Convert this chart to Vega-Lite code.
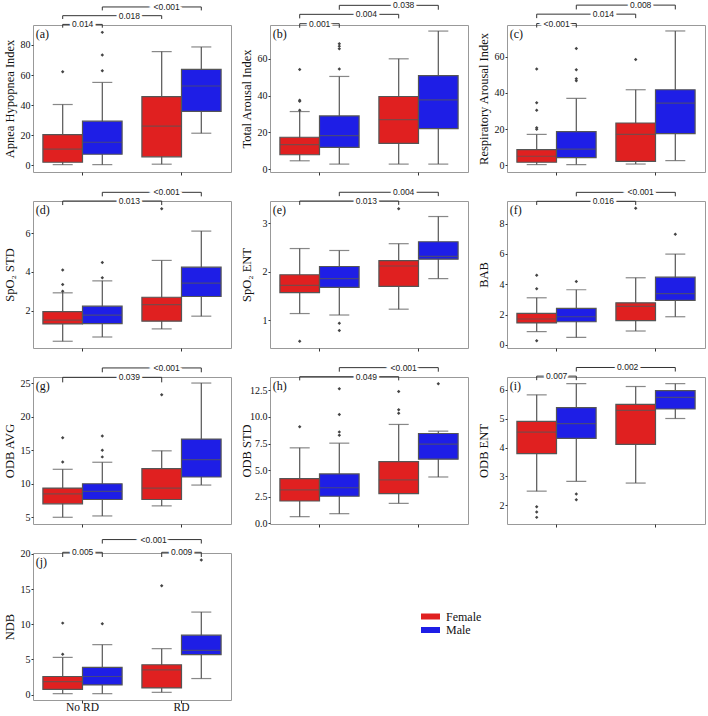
{
"$schema":"https://vega.github.io/schema/vega-lite/v6.json",
"padding":{"left":2,"top":0,"right":0,"bottom":0},
"columns":3,
"spacing":{"row":29,"column":39},
"bounds":"flush",
"datasets":{"d":[
{"p":"a","g":"No RD","s":"Female","lo":0.4,"q1":2,"md":10.7,"q3":20.4,"hi":40.4},
{"p":"a","g":"No RD","s":"Male","lo":0.4,"q1":7.3,"md":15.3,"q3":29.3,"hi":55.1},
{"p":"a","g":"RD","s":"Female","lo":0.7,"q1":5.6,"md":26,"q3":45.6,"hi":75.6},
{"p":"a","g":"RD","s":"Male","lo":21.3,"q1":35.8,"md":52.7,"q3":63.8,"hi":78.7},
{"p":"a","g":"No RD","s":"Female","o":62.2},
{"p":"a","g":"No RD","s":"Male","o":62.9},
{"p":"a","g":"No RD","s":"Male","o":73.3},
{"p":"a","g":"No RD","s":"Male","o":88.4},
{"p":"a","b":"a1","g":"No RD","s":"Female","by":93.7,"bl":91.5},
{"p":"a","b":"a1","g":"No RD","s":"Male","by":93.7,"bl":91.5},
{"p":"a","b":"a2","g":"No RD","s":"Female","by":99.5,"bl":97.3},
{"p":"a","b":"a2","g":"RD","s":"Female","by":99.5,"bl":97.3},
{"p":"a","b":"a3","g":"No RD","s":"Male","by":105.3,"bl":103},
{"p":"a","b":"a3","g":"RD","s":"Male","by":105.3,"bl":103},
{"p":"a","g":"No RD","s":"Female","k":"w","t":"0.014","ty":93.7},
{"p":"a","g":"No RD","s":"Male","k":"f","t":"0.018","ty":99.5},
{"p":"a","g":"RD","s":"Female","k":"m","t":"<0.001","ty":105.3},
{"p":"a","g":"No RD","s":"Female","L":"(a)","ly":93.3},

{"p":"b","g":"No RD","s":"Female","lo":4.5,"q1":7.8,"md":13.3,"q3":17.3,"hi":31.3},
{"p":"b","g":"No RD","s":"Male","lo":2.7,"q1":11.8,"md":18.2,"q3":28.9,"hi":50.4},
{"p":"b","g":"RD","s":"Female","lo":2.7,"q1":14,"md":26.9,"q3":39.5,"hi":60},
{"p":"b","g":"RD","s":"Male","lo":2.7,"q1":22,"md":37.6,"q3":50.9,"hi":75.1},
{"p":"b","g":"No RD","s":"Female","o":32},
{"p":"b","g":"No RD","s":"Female","o":36.9},
{"p":"b","g":"No RD","s":"Female","o":37.5},
{"p":"b","g":"No RD","s":"Female","o":54.2},
{"p":"b","g":"No RD","s":"Male","o":54.4},
{"p":"b","g":"No RD","s":"Male","o":65.5},
{"p":"b","g":"No RD","s":"Male","o":66.9},
{"p":"b","g":"No RD","s":"Male","o":68.2},
{"p":"b","b":"b1","g":"No RD","s":"Female","by":79.1,"bl":76.9},
{"p":"b","b":"b1","g":"No RD","s":"Male","by":79.1,"bl":76.9},
{"p":"b","b":"b2","g":"No RD","s":"Female","by":84.2,"bl":82},
{"p":"b","b":"b2","g":"RD","s":"Female","by":84.2,"bl":82},
{"p":"b","b":"b3","g":"No RD","s":"Male","by":89.1,"bl":86.7},
{"p":"b","b":"b3","g":"RD","s":"Male","by":89.1,"bl":86.7},
{"p":"b","g":"No RD","s":"Female","k":"w","t":"0.001","ty":79.1},
{"p":"b","g":"No RD","s":"Male","k":"f","t":"0.004","ty":84.2},
{"p":"b","g":"RD","s":"Female","k":"m","t":"0.038","ty":89.1},
{"p":"b","g":"No RD","s":"Female","L":"(b)","ly":78.4},

{"p":"c","g":"No RD","s":"Female","lo":0.4,"q1":1.7,"md":5,"q3":8.7,"hi":17.1},
{"p":"c","g":"No RD","s":"Male","lo":0.4,"q1":4.3,"md":8.9,"q3":18.6,"hi":37},
{"p":"c","g":"RD","s":"Female","lo":0.7,"q1":2.2,"md":17.1,"q3":23.4,"hi":41.8},
{"p":"c","g":"RD","s":"Male","lo":2.6,"q1":17.5,"md":34.4,"q3":41.8,"hi":74.3},
{"p":"c","g":"No RD","s":"Female","o":19.9},
{"p":"c","g":"No RD","s":"Female","o":20.8},
{"p":"c","g":"No RD","s":"Female","o":30.5},
{"p":"c","g":"No RD","s":"Female","o":34.6},
{"p":"c","g":"No RD","s":"Female","o":53.3},
{"p":"c","g":"No RD","s":"Male","o":46.8},
{"p":"c","g":"No RD","s":"Male","o":47.9},
{"p":"c","g":"No RD","s":"Male","o":52.9},
{"p":"c","g":"No RD","s":"Male","o":64.6},
{"p":"c","g":"RD","s":"Female","o":58.5},
{"p":"c","b":"c1","g":"No RD","s":"Female","by":78.4,"bl":76.2},
{"p":"c","b":"c1","g":"No RD","s":"Male","by":78.4,"bl":76.2},
{"p":"c","b":"c2","g":"No RD","s":"Female","by":83.6,"bl":81.4},
{"p":"c","b":"c2","g":"RD","s":"Female","by":83.6,"bl":81.4},
{"p":"c","b":"c3","g":"No RD","s":"Male","by":88.6,"bl":86.2},
{"p":"c","b":"c3","g":"RD","s":"Male","by":88.6,"bl":86.2},
{"p":"c","g":"No RD","s":"Female","k":"w","t":"<0.001","ty":78.4},
{"p":"c","g":"No RD","s":"Male","k":"f","t":"0.014","ty":83.6},
{"p":"c","g":"RD","s":"Female","k":"m","t":"0.008","ty":88.6},
{"p":"c","g":"No RD","s":"Female","L":"(c)","ly":77.6},

{"p":"d","g":"No RD","s":"Female","lo":0.41,"q1":1.31,"md":1.5,"q3":1.95,"hi":2.92},
{"p":"d","g":"No RD","s":"Male","lo":0.63,"q1":1.32,"md":1.76,"q3":2.23,"hi":3.54},
{"p":"d","g":"RD","s":"Female","lo":1.05,"q1":1.45,"md":2.31,"q3":2.69,"hi":4.6},
{"p":"d","g":"RD","s":"Male","lo":1.71,"q1":2.73,"md":3.42,"q3":4.25,"hi":6.12},
{"p":"d","g":"No RD","s":"Female","o":3.0},
{"p":"d","g":"No RD","s":"Female","o":3.35},
{"p":"d","g":"No RD","s":"Female","o":4.1},
{"p":"d","g":"No RD","s":"Male","o":3.7},
{"p":"d","g":"No RD","s":"Male","o":4.49},
{"p":"d","g":"RD","s":"Female","o":7.28},
{"p":"d","b":"d1","g":"No RD","s":"Female","by":7.68,"bl":7.47},
{"p":"d","b":"d1","g":"RD","s":"Female","by":7.68,"bl":7.47},
{"p":"d","b":"d2","g":"No RD","s":"Male","by":8.13,"bl":7.92},
{"p":"d","b":"d2","g":"RD","s":"Male","by":8.13,"bl":7.92},
{"p":"d","g":"No RD","s":"Male","k":"f","t":"0.013","ty":7.68},
{"p":"d","g":"RD","s":"Female","k":"m","t":"<0.001","ty":8.13},
{"p":"d","g":"No RD","s":"Female","L":"(d)","ly":7.68},

{"p":"e","g":"No RD","s":"Female","lo":1.14,"q1":1.57,"md":1.72,"q3":1.94,"hi":2.48},
{"p":"e","g":"No RD","s":"Male","lo":1.11,"q1":1.68,"md":1.86,"q3":2.11,"hi":2.44},
{"p":"e","g":"RD","s":"Female","lo":1.23,"q1":1.7,"md":2.12,"q3":2.23,"hi":2.58},
{"p":"e","g":"RD","s":"Male","lo":1.86,"q1":2.26,"md":2.32,"q3":2.62,"hi":3.14},
{"p":"e","g":"No RD","s":"Female","o":0.57},
{"p":"e","g":"No RD","s":"Male","o":0.79},
{"p":"e","g":"No RD","s":"Male","o":0.94},
{"p":"e","g":"RD","s":"Female","o":3.3},
{"p":"e","b":"e1","g":"No RD","s":"Female","by":3.46,"bl":3.38},
{"p":"e","b":"e1","g":"RD","s":"Female","by":3.46,"bl":3.38},
{"p":"e","b":"e2","g":"No RD","s":"Male","by":3.64,"bl":3.56},
{"p":"e","b":"e2","g":"RD","s":"Male","by":3.64,"bl":3.56},
{"p":"e","g":"No RD","s":"Male","k":"f","t":"0.013","ty":3.46},
{"p":"e","g":"RD","s":"Female","k":"m","t":"0.004","ty":3.64},
{"p":"e","g":"No RD","s":"Female","L":"(e)","ly":3.46},

{"p":"f","g":"No RD","s":"Female","lo":0.88,"q1":1.45,"md":1.71,"q3":2.08,"hi":3.11},
{"p":"f","g":"No RD","s":"Male","lo":0.5,"q1":1.53,"md":1.86,"q3":2.41,"hi":3.64},
{"p":"f","g":"RD","s":"Female","lo":0.92,"q1":1.6,"md":2.54,"q3":2.78,"hi":4.43},
{"p":"f","g":"RD","s":"Male","lo":1.86,"q1":2.94,"md":3.38,"q3":4.47,"hi":5.99},
{"p":"f","g":"No RD","s":"Female","o":0.28},
{"p":"f","g":"No RD","s":"Female","o":3.71},
{"p":"f","g":"No RD","s":"Female","o":4.6},
{"p":"f","g":"No RD","s":"Male","o":4.19},
{"p":"f","g":"RD","s":"Female","o":9.01},
{"p":"f","g":"RD","s":"Male","o":7.3},
{"p":"f","b":"f1","g":"No RD","s":"Female","by":9.47,"bl":9.23},
{"p":"f","b":"f1","g":"RD","s":"Female","by":9.47,"bl":9.23},
{"p":"f","b":"f2","g":"No RD","s":"Male","by":10.06,"bl":9.8},
{"p":"f","b":"f2","g":"RD","s":"Male","by":10.06,"bl":9.8},
{"p":"f","g":"No RD","s":"Male","k":"f","t":"0.016","ty":9.47},
{"p":"f","g":"RD","s":"Female","k":"m","t":"<0.001","ty":10.06},
{"p":"f","g":"No RD","s":"Female","L":"(f)","ly":9.49},

{"p":"g","g":"No RD","s":"Female","lo":5,"q1":7,"md":8.5,"q3":9.35,"hi":12.15},
{"p":"g","g":"No RD","s":"Male","lo":5.2,"q1":7.65,"md":8.85,"q3":10,"hi":13.2},
{"p":"g","g":"RD","s":"Female","lo":6.7,"q1":7.65,"md":9.35,"q3":12.25,"hi":14.9},
{"p":"g","g":"RD","s":"Male","lo":9.8,"q1":11,"md":13.6,"q3":16.65,"hi":25},
{"p":"g","g":"No RD","s":"Female","o":13.25},
{"p":"g","g":"No RD","s":"Female","o":16.85},
{"p":"g","g":"No RD","s":"Male","o":14},
{"p":"g","g":"No RD","s":"Male","o":15},
{"p":"g","g":"No RD","s":"Male","o":17.1},
{"p":"g","g":"RD","s":"Female","o":23.25},
{"p":"g","b":"g1","g":"No RD","s":"Female","by":25.85,"bl":25.1},
{"p":"g","b":"g1","g":"RD","s":"Female","by":25.85,"bl":25.1},
{"p":"g","b":"g2","g":"No RD","s":"Male","by":27.25,"bl":26.6},
{"p":"g","b":"g2","g":"RD","s":"Male","by":27.25,"bl":26.6},
{"p":"g","g":"No RD","s":"Male","k":"f","t":"0.039","ty":25.85},
{"p":"g","g":"RD","s":"Female","k":"m","t":"<0.001","ty":27.25},
{"p":"g","g":"No RD","s":"Female","L":"(g)","ly":25.9},

{"p":"h","g":"No RD","s":"Female","lo":0.63,"q1":2.1,"md":3.14,"q3":4.2,"hi":7.1},
{"p":"h","g":"No RD","s":"Male","lo":0.91,"q1":2.55,"md":3.35,"q3":4.65,"hi":7.54},
{"p":"h","g":"RD","s":"Female","lo":1.88,"q1":2.8,"md":4.08,"q3":5.81,"hi":9.3},
{"p":"h","g":"RD","s":"Male","lo":4.36,"q1":6.03,"md":7.44,"q3":8.45,"hi":8.67},
{"p":"h","g":"No RD","s":"Female","o":9.08},
{"p":"h","g":"No RD","s":"Male","o":8.29},
{"p":"h","g":"No RD","s":"Male","o":8.6},
{"p":"h","g":"No RD","s":"Male","o":10.24},
{"p":"h","g":"No RD","s":"Male","o":12.66},
{"p":"h","g":"RD","s":"Female","o":10.36},
{"p":"h","g":"RD","s":"Female","o":10.68},
{"p":"h","g":"RD","s":"Female","o":12.4},
{"p":"h","g":"RD","s":"Male","o":13.13},
{"p":"h","b":"h1","g":"No RD","s":"Female","by":13.79,"bl":13.44},
{"p":"h","b":"h1","g":"RD","s":"Female","by":13.79,"bl":13.44},
{"p":"h","b":"h2","g":"No RD","s":"Male","by":14.64,"bl":14.26},
{"p":"h","b":"h2","g":"RD","s":"Male","by":14.64,"bl":14.26},
{"p":"h","g":"No RD","s":"Male","k":"f","t":"0.049","ty":13.79},
{"p":"h","g":"RD","s":"Female","k":"m","t":"<0.001","ty":14.64},
{"p":"h","g":"No RD","s":"Female","L":"(h)","ly":13.76},

{"p":"i","g":"No RD","s":"Female","lo":2.49,"q1":3.79,"md":4.54,"q3":4.91,"hi":5.83},
{"p":"i","g":"No RD","s":"Male","lo":2.83,"q1":4.32,"md":4.83,"q3":5.39,"hi":6.22},
{"p":"i","g":"RD","s":"Female","lo":2.77,"q1":4.11,"md":5.29,"q3":5.5,"hi":6.12},
{"p":"i","g":"RD","s":"Male","lo":5.01,"q1":5.34,"md":5.74,"q3":5.98,"hi":6.22},
{"p":"i","g":"No RD","s":"Female","o":1.58},
{"p":"i","g":"No RD","s":"Female","o":1.77},
{"p":"i","g":"No RD","s":"Female","o":1.95},
{"p":"i","g":"No RD","s":"Male","o":2.19},
{"p":"i","g":"No RD","s":"Male","o":2.39},
{"p":"i","b":"i1","g":"No RD","s":"Female","by":6.48,"bl":6.34},
{"p":"i","b":"i1","g":"No RD","s":"Male","by":6.48,"bl":6.34},
{"p":"i","b":"i2","g":"No RD","s":"Male","by":6.78,"bl":6.64},
{"p":"i","b":"i2","g":"RD","s":"Male","by":6.78,"bl":6.64},
{"p":"i","g":"No RD","s":"Female","k":"w","t":"0.007","ty":6.48},
{"p":"i","g":"RD","s":"Female","k":"m2","t":"0.002","ty":6.78},
{"p":"i","g":"No RD","s":"Female","L":"(i)","ly":6.45},

{"p":"j","g":"No RD","s":"Female","lo":0.14,"q1":0.76,"md":1.86,"q3":2.58,"hi":5.3},
{"p":"j","g":"No RD","s":"Male","lo":0.14,"q1":1.38,"md":2.58,"q3":3.87,"hi":7.11},
{"p":"j","g":"RD","s":"Female","lo":0.33,"q1":0.95,"md":3.53,"q3":4.25,"hi":6.54},
{"p":"j","g":"RD","s":"Male","lo":2.29,"q1":5.68,"md":6.3,"q3":8.45,"hi":11.74},
{"p":"j","g":"No RD","s":"Female","o":5.73},
{"p":"j","g":"No RD","s":"Female","o":10.17},
{"p":"j","g":"No RD","s":"Male","o":10.07},
{"p":"j","g":"RD","s":"Female","o":15.47},
{"p":"j","g":"RD","s":"Male","o":19.14},
{"p":"j","b":"j1","g":"No RD","s":"Female","by":20.24,"bl":19.57},
{"p":"j","b":"j1","g":"No RD","s":"Male","by":20.24,"bl":19.57},
{"p":"j","b":"j2","g":"RD","s":"Female","by":20.24,"bl":19.57},
{"p":"j","b":"j2","g":"RD","s":"Male","by":20.24,"bl":19.57},
{"p":"j","b":"j3","g":"No RD","s":"Male","by":22.05,"bl":21.48},
{"p":"j","b":"j3","g":"RD","s":"Male","by":22.05,"bl":21.48},
{"p":"j","g":"No RD","s":"Female","k":"w","t":"0.005","ty":20.24},
{"p":"j","g":"RD","s":"Female","k":"w","t":"0.009","ty":20.24},
{"p":"j","g":"RD","s":"Female","k":"m2","t":"<0.001","ty":22.05},
{"p":"j","g":"No RD","s":"Female","L":"(j)","ly":20.14}
]},
"concat":[
{"width":198,"height":147,"data":{"name":"d"},"transform":[{"filter":"datum.p=='a'"}],
"encoding":{"x":{"field":"g","type":"nominal","title":null,"scale":{"domain":["No RD","RD"],"paddingInner":0,"paddingOuter":0}},"xOffset":{"field":"s","type":"nominal","scale":{"domain":["Female","Male"],"paddingInner":0,"paddingOuter":0.25}}},
"layer":[
{"transform":[{"filter":"datum.q1!=null"}],"mark":{"type":"rule","color":"#555","strokeWidth":1.2},"encoding":{"y":{"field":"lo","type":"quantitative","scale":{"domain":[-4.5,93.3],"nice":false},"axis":{"title":"Apnea Hypopnea Index","tickCount":5,"format":"d","labelOverlap":false}},"y2":{"field":"hi"}}},
{"transform":[{"filter":"datum.q1!=null"}],"mark":{"type":"bar","stroke":"#555","strokeWidth":1.2},"encoding":{"y":{"field":"q1","type":"quantitative"},"y2":{"field":"q3"},"color":{"field":"s","type":"nominal","title":null}}},
{"transform":[{"filter":"datum.q1!=null"}],"mark":{"type":"tick","color":"#555","thickness":1.2,"size":39.6},"encoding":{"y":{"field":"md","type":"quantitative"}}},
{"transform":[{"filter":"datum.q1!=null"},{"fold":["lo","hi"],"as":["kk","c"]}],"mark":{"type":"tick","color":"#555","thickness":1.2,"size":20},"encoding":{"y":{"field":"c","type":"quantitative"}}},
{"transform":[{"filter":"datum.o!=null"}],"mark":{"type":"point","shape":"diamond","filled":true,"size":12,"color":"#444","opacity":1},"encoding":{"y":{"field":"o","type":"quantitative"}}},
{"transform":[{"filter":"datum.b!=null"}],"mark":{"type":"line","color":"#333","strokeWidth":1},"encoding":{"y":{"field":"by","type":"quantitative"},"detail":{"field":"b","type":"nominal"}}},
{"transform":[{"filter":"datum.b!=null"}],"mark":{"type":"rule","color":"#333","strokeWidth":1},"encoding":{"y":{"field":"by","type":"quantitative"},"y2":{"field":"bl"}}},
{"transform":[{"filter":"datum.t!=null"}],"mark":{"type":"text","font":"Liberation Sans","fontSize":8.5,"align":"center","baseline":"middle","color":"white","stroke":"white","strokeWidth":5,"dx":{"expr":"datum.k=='w'?20:datum.k=='f'?27:datum.k=='m'?5:-8"}},"encoding":{"y":{"field":"ty","type":"quantitative"},"text":{"field":"t"}}},
{"transform":[{"filter":"datum.t!=null"}],"mark":{"type":"text","font":"Liberation Sans","fontSize":8.5,"align":"center","baseline":"middle","color":"#222","dx":{"expr":"datum.k=='w'?20:datum.k=='f'?27:datum.k=='m'?5:-8"}},"encoding":{"y":{"field":"ty","type":"quantitative"},"text":{"field":"t"}}},
{"transform":[{"filter":"datum.L!=null"}],"mark":{"type":"text","fontSize":12,"align":"left","baseline":"top","dx":-27,"dy":4,"color":"#111"},"encoding":{"y":{"field":"ly","type":"quantitative"},"text":{"field":"L"}}}
]},
{"width":198,"height":147,"data":{"name":"d"},"transform":[{"filter":"datum.p=='b'"}],
"encoding":{"x":{"field":"g","type":"nominal","title":null,"scale":{"domain":["No RD","RD"],"paddingInner":0,"paddingOuter":0}},"xOffset":{"field":"s","type":"nominal","scale":{"domain":["Female","Male"],"paddingInner":0,"paddingOuter":0.25}}},
"layer":[
{"transform":[{"filter":"datum.q1!=null"}],"mark":{"type":"rule","color":"#555","strokeWidth":1.2},"encoding":{"y":{"field":"lo","type":"quantitative","scale":{"domain":[-1.6,78.4],"nice":false},"axis":{"title":"Total Arousal Index","values":[0,20,40,60],"tickCount":20,"format":"d","labelOverlap":false}},"y2":{"field":"hi"}}},
{"transform":[{"filter":"datum.q1!=null"}],"mark":{"type":"bar","stroke":"#555","strokeWidth":1.2},"encoding":{"y":{"field":"q1","type":"quantitative"},"y2":{"field":"q3"},"color":{"field":"s","type":"nominal","title":null}}},
{"transform":[{"filter":"datum.q1!=null"}],"mark":{"type":"tick","color":"#555","thickness":1.2,"size":39.6},"encoding":{"y":{"field":"md","type":"quantitative"}}},
{"transform":[{"filter":"datum.q1!=null"},{"fold":["lo","hi"],"as":["kk","c"]}],"mark":{"type":"tick","color":"#555","thickness":1.2,"size":20},"encoding":{"y":{"field":"c","type":"quantitative"}}},
{"transform":[{"filter":"datum.o!=null"}],"mark":{"type":"point","shape":"diamond","filled":true,"size":12,"color":"#444","opacity":1},"encoding":{"y":{"field":"o","type":"quantitative"}}},
{"transform":[{"filter":"datum.b!=null"}],"mark":{"type":"line","color":"#333","strokeWidth":1},"encoding":{"y":{"field":"by","type":"quantitative"},"detail":{"field":"b","type":"nominal"}}},
{"transform":[{"filter":"datum.b!=null"}],"mark":{"type":"rule","color":"#333","strokeWidth":1},"encoding":{"y":{"field":"by","type":"quantitative"},"y2":{"field":"bl"}}},
{"transform":[{"filter":"datum.t!=null"}],"mark":{"type":"text","font":"Liberation Sans","fontSize":8.5,"align":"center","baseline":"middle","color":"white","stroke":"white","strokeWidth":5,"dx":{"expr":"datum.k=='w'?20:datum.k=='f'?27:datum.k=='m'?5:-8"}},"encoding":{"y":{"field":"ty","type":"quantitative"},"text":{"field":"t"}}},
{"transform":[{"filter":"datum.t!=null"}],"mark":{"type":"text","font":"Liberation Sans","fontSize":8.5,"align":"center","baseline":"middle","color":"#222","dx":{"expr":"datum.k=='w'?20:datum.k=='f'?27:datum.k=='m'?5:-8"}},"encoding":{"y":{"field":"ty","type":"quantitative"},"text":{"field":"t"}}},
{"transform":[{"filter":"datum.L!=null"}],"mark":{"type":"text","fontSize":12,"align":"left","baseline":"top","dx":-27,"dy":4,"color":"#111"},"encoding":{"y":{"field":"ly","type":"quantitative"},"text":{"field":"L"}}}
]},
{"width":198,"height":147,"data":{"name":"d"},"transform":[{"filter":"datum.p=='c'"}],
"encoding":{"x":{"field":"g","type":"nominal","title":null,"scale":{"domain":["No RD","RD"],"paddingInner":0,"paddingOuter":0}},"xOffset":{"field":"s","type":"nominal","scale":{"domain":["Female","Male"],"paddingInner":0,"paddingOuter":0.25}}},
"layer":[
{"transform":[{"filter":"datum.q1!=null"}],"mark":{"type":"rule","color":"#555","strokeWidth":1.2},"encoding":{"y":{"field":"lo","type":"quantitative","scale":{"domain":[-3.7,77.6],"nice":false},"axis":{"title":"Respiratory Arousal Index","values":[0,20,40,60],"tickCount":20,"format":"d","labelOverlap":false}},"y2":{"field":"hi"}}},
{"transform":[{"filter":"datum.q1!=null"}],"mark":{"type":"bar","stroke":"#555","strokeWidth":1.2},"encoding":{"y":{"field":"q1","type":"quantitative"},"y2":{"field":"q3"},"color":{"field":"s","type":"nominal","title":null}}},
{"transform":[{"filter":"datum.q1!=null"}],"mark":{"type":"tick","color":"#555","thickness":1.2,"size":39.6},"encoding":{"y":{"field":"md","type":"quantitative"}}},
{"transform":[{"filter":"datum.q1!=null"},{"fold":["lo","hi"],"as":["kk","c"]}],"mark":{"type":"tick","color":"#555","thickness":1.2,"size":20},"encoding":{"y":{"field":"c","type":"quantitative"}}},
{"transform":[{"filter":"datum.o!=null"}],"mark":{"type":"point","shape":"diamond","filled":true,"size":12,"color":"#444","opacity":1},"encoding":{"y":{"field":"o","type":"quantitative"}}},
{"transform":[{"filter":"datum.b!=null"}],"mark":{"type":"line","color":"#333","strokeWidth":1},"encoding":{"y":{"field":"by","type":"quantitative"},"detail":{"field":"b","type":"nominal"}}},
{"transform":[{"filter":"datum.b!=null"}],"mark":{"type":"rule","color":"#333","strokeWidth":1},"encoding":{"y":{"field":"by","type":"quantitative"},"y2":{"field":"bl"}}},
{"transform":[{"filter":"datum.t!=null"}],"mark":{"type":"text","font":"Liberation Sans","fontSize":8.5,"align":"center","baseline":"middle","color":"white","stroke":"white","strokeWidth":5,"dx":{"expr":"datum.k=='w'?20:datum.k=='f'?27:datum.k=='m'?5:-8"}},"encoding":{"y":{"field":"ty","type":"quantitative"},"text":{"field":"t"}}},
{"transform":[{"filter":"datum.t!=null"}],"mark":{"type":"text","font":"Liberation Sans","fontSize":8.5,"align":"center","baseline":"middle","color":"#222","dx":{"expr":"datum.k=='w'?20:datum.k=='f'?27:datum.k=='m'?5:-8"}},"encoding":{"y":{"field":"ty","type":"quantitative"},"text":{"field":"t"}}},
{"transform":[{"filter":"datum.L!=null"}],"mark":{"type":"text","fontSize":12,"align":"left","baseline":"top","dx":-27,"dy":4,"color":"#111"},"encoding":{"y":{"field":"ly","type":"quantitative"},"text":{"field":"L"}}}
]},
{"width":198,"height":147,"data":{"name":"d"},"transform":[{"filter":"datum.p=='d'"}],
"encoding":{"x":{"field":"g","type":"nominal","title":null,"scale":{"domain":["No RD","RD"],"paddingInner":0,"paddingOuter":0}},"xOffset":{"field":"s","type":"nominal","scale":{"domain":["Female","Male"],"paddingInner":0,"paddingOuter":0.25}}},
"layer":[
{"transform":[{"filter":"datum.q1!=null"}],"mark":{"type":"rule","color":"#555","strokeWidth":1.2},"encoding":{"y":{"field":"lo","type":"quantitative","scale":{"domain":[0.06,7.68],"nice":false},"axis":{"title":"SpO₂ STD","values":[2,4,6],"tickCount":20,"format":"d","labelOverlap":false}},"y2":{"field":"hi"}}},
{"transform":[{"filter":"datum.q1!=null"}],"mark":{"type":"bar","stroke":"#555","strokeWidth":1.2},"encoding":{"y":{"field":"q1","type":"quantitative"},"y2":{"field":"q3"},"color":{"field":"s","type":"nominal","title":null}}},
{"transform":[{"filter":"datum.q1!=null"}],"mark":{"type":"tick","color":"#555","thickness":1.2,"size":39.6},"encoding":{"y":{"field":"md","type":"quantitative"}}},
{"transform":[{"filter":"datum.q1!=null"},{"fold":["lo","hi"],"as":["kk","c"]}],"mark":{"type":"tick","color":"#555","thickness":1.2,"size":20},"encoding":{"y":{"field":"c","type":"quantitative"}}},
{"transform":[{"filter":"datum.o!=null"}],"mark":{"type":"point","shape":"diamond","filled":true,"size":12,"color":"#444","opacity":1},"encoding":{"y":{"field":"o","type":"quantitative"}}},
{"transform":[{"filter":"datum.b!=null"}],"mark":{"type":"line","color":"#333","strokeWidth":1},"encoding":{"y":{"field":"by","type":"quantitative"},"detail":{"field":"b","type":"nominal"}}},
{"transform":[{"filter":"datum.b!=null"}],"mark":{"type":"rule","color":"#333","strokeWidth":1},"encoding":{"y":{"field":"by","type":"quantitative"},"y2":{"field":"bl"}}},
{"transform":[{"filter":"datum.t!=null"}],"mark":{"type":"text","font":"Liberation Sans","fontSize":8.5,"align":"center","baseline":"middle","color":"white","stroke":"white","strokeWidth":5,"dx":{"expr":"datum.k=='w'?20:datum.k=='f'?27:datum.k=='m'?5:-8"}},"encoding":{"y":{"field":"ty","type":"quantitative"},"text":{"field":"t"}}},
{"transform":[{"filter":"datum.t!=null"}],"mark":{"type":"text","font":"Liberation Sans","fontSize":8.5,"align":"center","baseline":"middle","color":"#222","dx":{"expr":"datum.k=='w'?20:datum.k=='f'?27:datum.k=='m'?5:-8"}},"encoding":{"y":{"field":"ty","type":"quantitative"},"text":{"field":"t"}}},
{"transform":[{"filter":"datum.L!=null"}],"mark":{"type":"text","fontSize":12,"align":"left","baseline":"top","dx":-27,"dy":4,"color":"#111"},"encoding":{"y":{"field":"ly","type":"quantitative"},"text":{"field":"L"}}}
]},
{"width":198,"height":147,"data":{"name":"d"},"transform":[{"filter":"datum.p=='e'"}],
"encoding":{"x":{"field":"g","type":"nominal","title":null,"scale":{"domain":["No RD","RD"],"paddingInner":0,"paddingOuter":0}},"xOffset":{"field":"s","type":"nominal","scale":{"domain":["Female","Male"],"paddingInner":0,"paddingOuter":0.25}}},
"layer":[
{"transform":[{"filter":"datum.q1!=null"}],"mark":{"type":"rule","color":"#555","strokeWidth":1.2},"encoding":{"y":{"field":"lo","type":"quantitative","scale":{"domain":[0.43,3.46],"nice":false},"axis":{"title":"SpO₂ ENT","values":[1,2,3],"tickCount":20,"format":"d","labelOverlap":false}},"y2":{"field":"hi"}}},
{"transform":[{"filter":"datum.q1!=null"}],"mark":{"type":"bar","stroke":"#555","strokeWidth":1.2},"encoding":{"y":{"field":"q1","type":"quantitative"},"y2":{"field":"q3"},"color":{"field":"s","type":"nominal","title":null}}},
{"transform":[{"filter":"datum.q1!=null"}],"mark":{"type":"tick","color":"#555","thickness":1.2,"size":39.6},"encoding":{"y":{"field":"md","type":"quantitative"}}},
{"transform":[{"filter":"datum.q1!=null"},{"fold":["lo","hi"],"as":["kk","c"]}],"mark":{"type":"tick","color":"#555","thickness":1.2,"size":20},"encoding":{"y":{"field":"c","type":"quantitative"}}},
{"transform":[{"filter":"datum.o!=null"}],"mark":{"type":"point","shape":"diamond","filled":true,"size":12,"color":"#444","opacity":1},"encoding":{"y":{"field":"o","type":"quantitative"}}},
{"transform":[{"filter":"datum.b!=null"}],"mark":{"type":"line","color":"#333","strokeWidth":1},"encoding":{"y":{"field":"by","type":"quantitative"},"detail":{"field":"b","type":"nominal"}}},
{"transform":[{"filter":"datum.b!=null"}],"mark":{"type":"rule","color":"#333","strokeWidth":1},"encoding":{"y":{"field":"by","type":"quantitative"},"y2":{"field":"bl"}}},
{"transform":[{"filter":"datum.t!=null"}],"mark":{"type":"text","font":"Liberation Sans","fontSize":8.5,"align":"center","baseline":"middle","color":"white","stroke":"white","strokeWidth":5,"dx":{"expr":"datum.k=='w'?20:datum.k=='f'?27:datum.k=='m'?5:-8"}},"encoding":{"y":{"field":"ty","type":"quantitative"},"text":{"field":"t"}}},
{"transform":[{"filter":"datum.t!=null"}],"mark":{"type":"text","font":"Liberation Sans","fontSize":8.5,"align":"center","baseline":"middle","color":"#222","dx":{"expr":"datum.k=='w'?20:datum.k=='f'?27:datum.k=='m'?5:-8"}},"encoding":{"y":{"field":"ty","type":"quantitative"},"text":{"field":"t"}}},
{"transform":[{"filter":"datum.L!=null"}],"mark":{"type":"text","fontSize":12,"align":"left","baseline":"top","dx":-27,"dy":4,"color":"#111"},"encoding":{"y":{"field":"ly","type":"quantitative"},"text":{"field":"L"}}}
]},
{"width":198,"height":147,"data":{"name":"d"},"transform":[{"filter":"datum.p=='f'"}],
"encoding":{"x":{"field":"g","type":"nominal","title":null,"scale":{"domain":["No RD","RD"],"paddingInner":0,"paddingOuter":0}},"xOffset":{"field":"s","type":"nominal","scale":{"domain":["Female","Male"],"paddingInner":0,"paddingOuter":0.25}}},
"layer":[
{"transform":[{"filter":"datum.q1!=null"}],"mark":{"type":"rule","color":"#555","strokeWidth":1.2},"encoding":{"y":{"field":"lo","type":"quantitative","scale":{"domain":[-0.2,9.49],"nice":false},"axis":{"title":"BAB","values":[0,2,4,6,8],"tickCount":20,"format":"d","labelOverlap":false}},"y2":{"field":"hi"}}},
{"transform":[{"filter":"datum.q1!=null"}],"mark":{"type":"bar","stroke":"#555","strokeWidth":1.2},"encoding":{"y":{"field":"q1","type":"quantitative"},"y2":{"field":"q3"},"color":{"field":"s","type":"nominal","title":null}}},
{"transform":[{"filter":"datum.q1!=null"}],"mark":{"type":"tick","color":"#555","thickness":1.2,"size":39.6},"encoding":{"y":{"field":"md","type":"quantitative"}}},
{"transform":[{"filter":"datum.q1!=null"},{"fold":["lo","hi"],"as":["kk","c"]}],"mark":{"type":"tick","color":"#555","thickness":1.2,"size":20},"encoding":{"y":{"field":"c","type":"quantitative"}}},
{"transform":[{"filter":"datum.o!=null"}],"mark":{"type":"point","shape":"diamond","filled":true,"size":12,"color":"#444","opacity":1},"encoding":{"y":{"field":"o","type":"quantitative"}}},
{"transform":[{"filter":"datum.b!=null"}],"mark":{"type":"line","color":"#333","strokeWidth":1},"encoding":{"y":{"field":"by","type":"quantitative"},"detail":{"field":"b","type":"nominal"}}},
{"transform":[{"filter":"datum.b!=null"}],"mark":{"type":"rule","color":"#333","strokeWidth":1},"encoding":{"y":{"field":"by","type":"quantitative"},"y2":{"field":"bl"}}},
{"transform":[{"filter":"datum.t!=null"}],"mark":{"type":"text","font":"Liberation Sans","fontSize":8.5,"align":"center","baseline":"middle","color":"white","stroke":"white","strokeWidth":5,"dx":{"expr":"datum.k=='w'?20:datum.k=='f'?27:datum.k=='m'?5:-8"}},"encoding":{"y":{"field":"ty","type":"quantitative"},"text":{"field":"t"}}},
{"transform":[{"filter":"datum.t!=null"}],"mark":{"type":"text","font":"Liberation Sans","fontSize":8.5,"align":"center","baseline":"middle","color":"#222","dx":{"expr":"datum.k=='w'?20:datum.k=='f'?27:datum.k=='m'?5:-8"}},"encoding":{"y":{"field":"ty","type":"quantitative"},"text":{"field":"t"}}},
{"transform":[{"filter":"datum.L!=null"}],"mark":{"type":"text","fontSize":12,"align":"left","baseline":"top","dx":-27,"dy":4,"color":"#111"},"encoding":{"y":{"field":"ly","type":"quantitative"},"text":{"field":"L"}}}
]},
{"width":198,"height":147,"data":{"name":"d"},"transform":[{"filter":"datum.p=='g'"}],
"encoding":{"x":{"field":"g","type":"nominal","title":null,"scale":{"domain":["No RD","RD"],"paddingInner":0,"paddingOuter":0}},"xOffset":{"field":"s","type":"nominal","scale":{"domain":["Female","Male"],"paddingInner":0,"paddingOuter":0.25}}},
"layer":[
{"transform":[{"filter":"datum.q1!=null"}],"mark":{"type":"rule","color":"#555","strokeWidth":1.2},"encoding":{"y":{"field":"lo","type":"quantitative","scale":{"domain":[4.0,25.9],"nice":false},"axis":{"title":"ODB AVG","values":[5,10,15,20,25],"tickCount":20,"format":"d","labelOverlap":false}},"y2":{"field":"hi"}}},
{"transform":[{"filter":"datum.q1!=null"}],"mark":{"type":"bar","stroke":"#555","strokeWidth":1.2},"encoding":{"y":{"field":"q1","type":"quantitative"},"y2":{"field":"q3"},"color":{"field":"s","type":"nominal","title":null}}},
{"transform":[{"filter":"datum.q1!=null"}],"mark":{"type":"tick","color":"#555","thickness":1.2,"size":39.6},"encoding":{"y":{"field":"md","type":"quantitative"}}},
{"transform":[{"filter":"datum.q1!=null"},{"fold":["lo","hi"],"as":["kk","c"]}],"mark":{"type":"tick","color":"#555","thickness":1.2,"size":20},"encoding":{"y":{"field":"c","type":"quantitative"}}},
{"transform":[{"filter":"datum.o!=null"}],"mark":{"type":"point","shape":"diamond","filled":true,"size":12,"color":"#444","opacity":1},"encoding":{"y":{"field":"o","type":"quantitative"}}},
{"transform":[{"filter":"datum.b!=null"}],"mark":{"type":"line","color":"#333","strokeWidth":1},"encoding":{"y":{"field":"by","type":"quantitative"},"detail":{"field":"b","type":"nominal"}}},
{"transform":[{"filter":"datum.b!=null"}],"mark":{"type":"rule","color":"#333","strokeWidth":1},"encoding":{"y":{"field":"by","type":"quantitative"},"y2":{"field":"bl"}}},
{"transform":[{"filter":"datum.t!=null"}],"mark":{"type":"text","font":"Liberation Sans","fontSize":8.5,"align":"center","baseline":"middle","color":"white","stroke":"white","strokeWidth":5,"dx":{"expr":"datum.k=='w'?20:datum.k=='f'?27:datum.k=='m'?5:-8"}},"encoding":{"y":{"field":"ty","type":"quantitative"},"text":{"field":"t"}}},
{"transform":[{"filter":"datum.t!=null"}],"mark":{"type":"text","font":"Liberation Sans","fontSize":8.5,"align":"center","baseline":"middle","color":"#222","dx":{"expr":"datum.k=='w'?20:datum.k=='f'?27:datum.k=='m'?5:-8"}},"encoding":{"y":{"field":"ty","type":"quantitative"},"text":{"field":"t"}}},
{"transform":[{"filter":"datum.L!=null"}],"mark":{"type":"text","fontSize":12,"align":"left","baseline":"top","dx":-27,"dy":4,"color":"#111"},"encoding":{"y":{"field":"ly","type":"quantitative"},"text":{"field":"L"}}}
]},
{"width":198,"height":147,"data":{"name":"d"},"transform":[{"filter":"datum.p=='h'"}],
"encoding":{"x":{"field":"g","type":"nominal","title":null,"scale":{"domain":["No RD","RD"],"paddingInner":0,"paddingOuter":0}},"xOffset":{"field":"s","type":"nominal","scale":{"domain":["Female","Male"],"paddingInner":0,"paddingOuter":0.25}}},
"layer":[
{"transform":[{"filter":"datum.q1!=null"}],"mark":{"type":"rule","color":"#555","strokeWidth":1.2},"encoding":{"y":{"field":"lo","type":"quantitative","scale":{"domain":[-0.06,13.76],"nice":false},"axis":{"title":"ODB STD","values":[0,2.5,5,7.5,10,12.5],"format":".1f","tickCount":20,"labelOverlap":false}},"y2":{"field":"hi"}}},
{"transform":[{"filter":"datum.q1!=null"}],"mark":{"type":"bar","stroke":"#555","strokeWidth":1.2},"encoding":{"y":{"field":"q1","type":"quantitative"},"y2":{"field":"q3"},"color":{"field":"s","type":"nominal","title":null}}},
{"transform":[{"filter":"datum.q1!=null"}],"mark":{"type":"tick","color":"#555","thickness":1.2,"size":39.6},"encoding":{"y":{"field":"md","type":"quantitative"}}},
{"transform":[{"filter":"datum.q1!=null"},{"fold":["lo","hi"],"as":["kk","c"]}],"mark":{"type":"tick","color":"#555","thickness":1.2,"size":20},"encoding":{"y":{"field":"c","type":"quantitative"}}},
{"transform":[{"filter":"datum.o!=null"}],"mark":{"type":"point","shape":"diamond","filled":true,"size":12,"color":"#444","opacity":1},"encoding":{"y":{"field":"o","type":"quantitative"}}},
{"transform":[{"filter":"datum.b!=null"}],"mark":{"type":"line","color":"#333","strokeWidth":1},"encoding":{"y":{"field":"by","type":"quantitative"},"detail":{"field":"b","type":"nominal"}}},
{"transform":[{"filter":"datum.b!=null"}],"mark":{"type":"rule","color":"#333","strokeWidth":1},"encoding":{"y":{"field":"by","type":"quantitative"},"y2":{"field":"bl"}}},
{"transform":[{"filter":"datum.t!=null"}],"mark":{"type":"text","font":"Liberation Sans","fontSize":8.5,"align":"center","baseline":"middle","color":"white","stroke":"white","strokeWidth":5,"dx":{"expr":"datum.k=='w'?20:datum.k=='f'?27:datum.k=='m'?5:-8"}},"encoding":{"y":{"field":"ty","type":"quantitative"},"text":{"field":"t"}}},
{"transform":[{"filter":"datum.t!=null"}],"mark":{"type":"text","font":"Liberation Sans","fontSize":8.5,"align":"center","baseline":"middle","color":"#222","dx":{"expr":"datum.k=='w'?20:datum.k=='f'?27:datum.k=='m'?5:-8"}},"encoding":{"y":{"field":"ty","type":"quantitative"},"text":{"field":"t"}}},
{"transform":[{"filter":"datum.L!=null"}],"mark":{"type":"text","fontSize":12,"align":"left","baseline":"top","dx":-27,"dy":4,"color":"#111"},"encoding":{"y":{"field":"ly","type":"quantitative"},"text":{"field":"L"}}}
]},
{"width":198,"height":147,"data":{"name":"d"},"transform":[{"filter":"datum.p=='i'"}],
"encoding":{"x":{"field":"g","type":"nominal","title":null,"scale":{"domain":["No RD","RD"],"paddingInner":0,"paddingOuter":0}},"xOffset":{"field":"s","type":"nominal","scale":{"domain":["Female","Male"],"paddingInner":0,"paddingOuter":0.25}}},
"layer":[
{"transform":[{"filter":"datum.q1!=null"}],"mark":{"type":"rule","color":"#555","strokeWidth":1.2},"encoding":{"y":{"field":"lo","type":"quantitative","scale":{"domain":[1.35,6.45],"nice":false},"axis":{"title":"ODB ENT","values":[2,3,4,5,6],"tickCount":20,"format":"d","labelOverlap":false}},"y2":{"field":"hi"}}},
{"transform":[{"filter":"datum.q1!=null"}],"mark":{"type":"bar","stroke":"#555","strokeWidth":1.2},"encoding":{"y":{"field":"q1","type":"quantitative"},"y2":{"field":"q3"},"color":{"field":"s","type":"nominal","title":null}}},
{"transform":[{"filter":"datum.q1!=null"}],"mark":{"type":"tick","color":"#555","thickness":1.2,"size":39.6},"encoding":{"y":{"field":"md","type":"quantitative"}}},
{"transform":[{"filter":"datum.q1!=null"},{"fold":["lo","hi"],"as":["kk","c"]}],"mark":{"type":"tick","color":"#555","thickness":1.2,"size":20},"encoding":{"y":{"field":"c","type":"quantitative"}}},
{"transform":[{"filter":"datum.o!=null"}],"mark":{"type":"point","shape":"diamond","filled":true,"size":12,"color":"#444","opacity":1},"encoding":{"y":{"field":"o","type":"quantitative"}}},
{"transform":[{"filter":"datum.b!=null"}],"mark":{"type":"line","color":"#333","strokeWidth":1},"encoding":{"y":{"field":"by","type":"quantitative"},"detail":{"field":"b","type":"nominal"}}},
{"transform":[{"filter":"datum.b!=null"}],"mark":{"type":"rule","color":"#333","strokeWidth":1},"encoding":{"y":{"field":"by","type":"quantitative"},"y2":{"field":"bl"}}},
{"transform":[{"filter":"datum.t!=null"}],"mark":{"type":"text","font":"Liberation Sans","fontSize":8.5,"align":"center","baseline":"middle","color":"white","stroke":"white","strokeWidth":5,"dx":{"expr":"datum.k=='w'?20:datum.k=='f'?27:datum.k=='m'?5:-8"}},"encoding":{"y":{"field":"ty","type":"quantitative"},"text":{"field":"t"}}},
{"transform":[{"filter":"datum.t!=null"}],"mark":{"type":"text","font":"Liberation Sans","fontSize":8.5,"align":"center","baseline":"middle","color":"#222","dx":{"expr":"datum.k=='w'?20:datum.k=='f'?27:datum.k=='m'?5:-8"}},"encoding":{"y":{"field":"ty","type":"quantitative"},"text":{"field":"t"}}},
{"transform":[{"filter":"datum.L!=null"}],"mark":{"type":"text","fontSize":12,"align":"left","baseline":"top","dx":-27,"dy":4,"color":"#111"},"encoding":{"y":{"field":"ly","type":"quantitative"},"text":{"field":"L"}}}
]},
{"width":198,"height":147,"data":{"name":"d"},"transform":[{"filter":"datum.p=='j'"}],
"encoding":{"x":{"field":"g","type":"nominal","title":null,"axis":{"labels":true},"scale":{"domain":["No RD","RD"],"paddingInner":0,"paddingOuter":0}},"xOffset":{"field":"s","type":"nominal","scale":{"domain":["Female","Male"],"paddingInner":0,"paddingOuter":0.25}}},
"layer":[
{"transform":[{"filter":"datum.q1!=null"}],"mark":{"type":"rule","color":"#555","strokeWidth":1.2},"encoding":{"y":{"field":"lo","type":"quantitative","scale":{"domain":[-0.76,20.14],"nice":false},"axis":{"title":"NDB","values":[0,5,10,15,20],"tickCount":20,"format":"d","labelOverlap":false}},"y2":{"field":"hi"}}},
{"transform":[{"filter":"datum.q1!=null"}],"mark":{"type":"bar","stroke":"#555","strokeWidth":1.2},"encoding":{"y":{"field":"q1","type":"quantitative"},"y2":{"field":"q3"},"color":{"field":"s","type":"nominal","title":null}}},
{"transform":[{"filter":"datum.q1!=null"}],"mark":{"type":"tick","color":"#555","thickness":1.2,"size":39.6},"encoding":{"y":{"field":"md","type":"quantitative"}}},
{"transform":[{"filter":"datum.q1!=null"},{"fold":["lo","hi"],"as":["kk","c"]}],"mark":{"type":"tick","color":"#555","thickness":1.2,"size":20},"encoding":{"y":{"field":"c","type":"quantitative"}}},
{"transform":[{"filter":"datum.o!=null"}],"mark":{"type":"point","shape":"diamond","filled":true,"size":12,"color":"#444","opacity":1},"encoding":{"y":{"field":"o","type":"quantitative"}}},
{"transform":[{"filter":"datum.b!=null"}],"mark":{"type":"line","color":"#333","strokeWidth":1},"encoding":{"y":{"field":"by","type":"quantitative"},"detail":{"field":"b","type":"nominal"}}},
{"transform":[{"filter":"datum.b!=null"}],"mark":{"type":"rule","color":"#333","strokeWidth":1},"encoding":{"y":{"field":"by","type":"quantitative"},"y2":{"field":"bl"}}},
{"transform":[{"filter":"datum.t!=null"}],"mark":{"type":"text","font":"Liberation Sans","fontSize":8.5,"align":"center","baseline":"middle","color":"white","stroke":"white","strokeWidth":5,"dx":{"expr":"datum.k=='w'?20:datum.k=='f'?27:datum.k=='m'?5:-8"}},"encoding":{"y":{"field":"ty","type":"quantitative"},"text":{"field":"t"}}},
{"transform":[{"filter":"datum.t!=null"}],"mark":{"type":"text","font":"Liberation Sans","fontSize":8.5,"align":"center","baseline":"middle","color":"#222","dx":{"expr":"datum.k=='w'?20:datum.k=='f'?27:datum.k=='m'?5:-8"}},"encoding":{"y":{"field":"ty","type":"quantitative"},"text":{"field":"t"}}},
{"transform":[{"filter":"datum.L!=null"}],"mark":{"type":"text","fontSize":12,"align":"left","baseline":"top","dx":-27,"dy":4,"color":"#111"},"encoding":{"y":{"field":"ly","type":"quantitative"},"text":{"field":"L"}}}
]}
],
"config":{
"font":"Liberation Serif",
"view":{"stroke":"#999","strokeWidth":1},
"range":{"category":["#e02020","#1e1ee6"]},
"axis":{"grid":false,"domain":false,"tickColor":"#333","labelOverlap":false,"labelFont":"Liberation Serif","labelFontSize":10,"labelColor":"#111","titleFont":"Liberation Serif","titleFontSize":12.5,"titleFontWeight":"normal","titleColor":"#111"},
"axisY":{"minExtent":15,"maxExtent":15,"titlePadding":2,"tickSize":2,"labelPadding":1},
"axisX":{"labels":false,"tickSize":3,"labelFontSize":11.5,"labelAngle":0,"labelPadding":-2},
"legend":{"orient":"none","legendX":391.5,"legendY":585.5,"symbolType":"M-1.58,-0.5H1.58V0.5H-1.58Z","symbolSize":144,"symbolStrokeWidth":0,"labelFont":"Liberation Serif","labelFontSize":12,"labelColor":"#111","rowPadding":1.5,"labelOffset":9.5}
}
}
